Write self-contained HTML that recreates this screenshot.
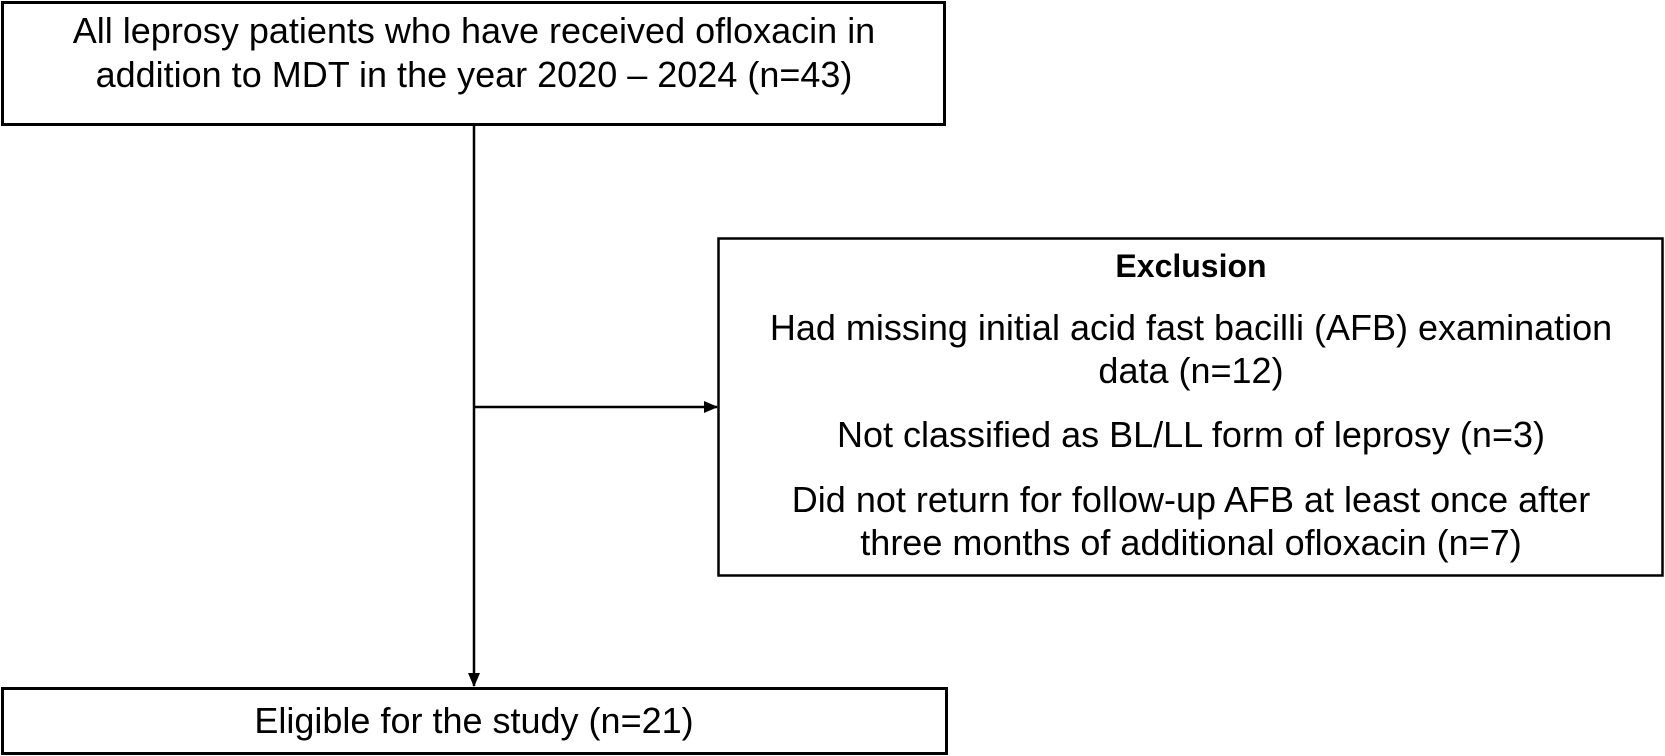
<!DOCTYPE html>
<html><head><meta charset="utf-8"><style>
html,body{margin:0;padding:0;background:#fff;}
svg{display:block;}
text{font-family:"Liberation Sans",sans-serif;fill:#000;}
</style></head><body>
<svg width="1665" height="756" viewBox="0 0 1665 756" xmlns="http://www.w3.org/2000/svg">
<defs><marker id="a" markerWidth="14" markerHeight="12" refX="13" refY="6" orient="auto" markerUnits="userSpaceOnUse"><path d="M0,0 L14,6 L0,12 z" fill="#000"/></marker></defs>
<rect x="2.5" y="2.5" width="942" height="122" fill="#fff" stroke="#000" stroke-width="3"/>
<text x="474" y="43" font-size="36" text-anchor="middle">All leprosy patients who have received ofloxacin in</text>
<text x="474" y="87" font-size="36" text-anchor="middle">addition to MDT in the year 2020 – 2024 (n=43)</text>
<line x1="474" y1="124" x2="474" y2="686" stroke="#000" stroke-width="2.5" marker-end="url(#a)"/>
<line x1="474" y1="407" x2="717" y2="407" stroke="#000" stroke-width="2.5" marker-end="url(#a)"/>
<rect x="718.5" y="238.5" width="944" height="337" fill="#fff" stroke="#000" stroke-width="2.5"/>
<text x="1191" y="277" font-size="32" font-weight="bold" text-anchor="middle">Exclusion</text>
<text x="1191" y="340" font-size="36" text-anchor="middle">Had missing initial acid fast bacilli (AFB) examination</text>
<text x="1191" y="383" font-size="36" text-anchor="middle">data (n=12)</text>
<text x="1191" y="447" font-size="36" text-anchor="middle">Not classified as BL/LL form of leprosy (n=3)</text>
<text x="1191" y="512" font-size="36" text-anchor="middle">Did not return for follow-up AFB at least once after</text>
<text x="1191" y="555" font-size="36" text-anchor="middle">three months of additional ofloxacin (n=7)</text>
<rect x="2.5" y="688.5" width="944" height="65" fill="#fff" stroke="#000" stroke-width="3"/>
<text x="474" y="733" font-size="36" text-anchor="middle">Eligible for the study (n=21)</text>
</svg>
</body></html>
